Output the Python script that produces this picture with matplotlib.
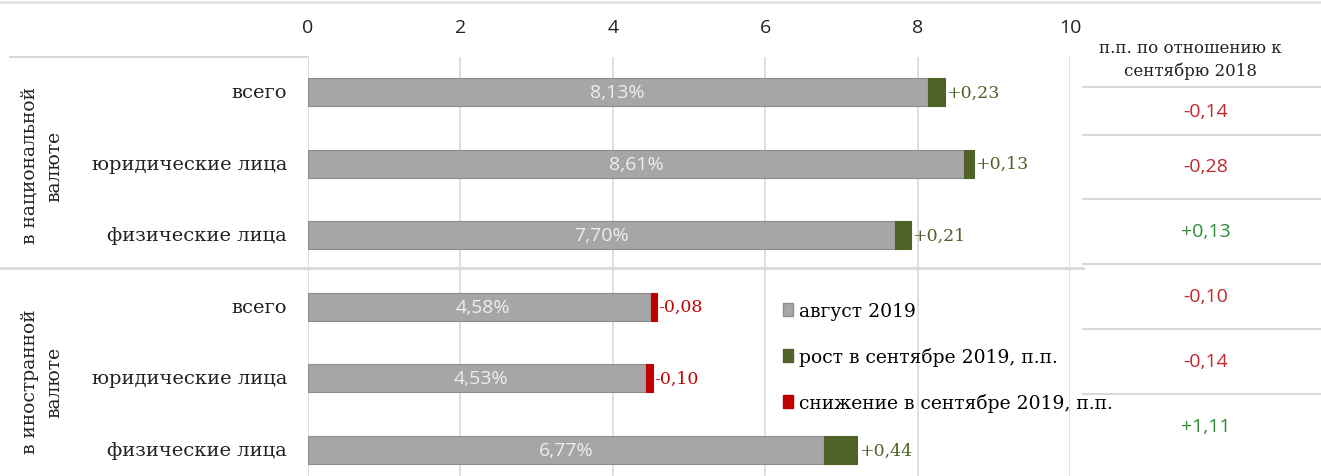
import matplotlib
matplotlib.use("Agg")
import matplotlib.pyplot as plt
from matplotlib.lines import Line2D
from matplotlib.patches import Patch

# ---- data ----
categories = ["всего", "юридические лица", "физические лица",
              "всего", "юридические лица", "физические лица"]
groups = ["в национальной\nвалюте", "в иностранной\nвалюте"]
august = [8.13, 8.61, 7.70, 4.58, 4.53, 6.77]
change_sep = [0.23, 0.13, 0.21, -0.08, -0.10, 0.44]
vs_sep2018 = [-0.14, -0.28, 0.13, -0.10, -0.14, 1.11]
xticks = [0, 2, 4, 6, 8, 10]
legend_labels = ["август 2019", "рост в сентябре 2019, п.п.", "снижение в сентябре 2019, п.п."]
table_header = "п.п. по отношению к\nсентябрю 2018"

GRAY = "#a6a6a6"
GRAY_EDGE = "#8c8c8c"
GREEN = "#4f6228"
RED = "#c00000"
T_RED = "#c0282d"
T_GREEN = "#2e8b3a"
LINE = "#d9d9d9"
SERIF = "DejaVu Serif"
SANS = "Open Sans"
TXT = "#222222"

W, H = 1321, 477
fig = plt.figure(figsize=(W / 100, H / 100), dpi=100)
fig.patch.set_facecolor("white")

def fx(px):
    return px / W

def fy(py):
    return 1 - py / H

ax = fig.add_axes([fx(308), 0, fx(1070) - fx(308), fy(58)])
ax.set_xlim(0, 10)
ax.set_ylim(5.363, -0.489)

bh = 0.39
for i, (a, c) in enumerate(zip(august, change_sep)):
    if c >= 0:
        ax.barh(i, a, height=bh, color=GRAY, edgecolor=GRAY_EDGE, linewidth=0.8, zorder=3)
        ax.barh(i, c, left=a, height=bh, color=GREEN, edgecolor=GREEN, linewidth=0.8, zorder=3)
        end = a + c
        col = GREEN
        txt = "+" + f"{c:.2f}".replace(".", ",")
    else:
        base = a + c
        ax.barh(i, base, height=bh, color=GRAY, edgecolor=GRAY_EDGE, linewidth=0.8, zorder=3)
        ax.barh(i, -c, left=base, height=bh, color=RED, edgecolor=RED, linewidth=0.8, zorder=3)
        end = a
        col = RED
        txt = f"{c:.2f}".replace(".", ",")
    ax.text(a / 2, i, f"{a:.2f}%".replace(".", ","), ha="center", va="center",
            color="#eeeeee", fontsize=14, family=SANS, zorder=4)
    ax.text(end + 0.02, i, txt, ha="left", va="center", color=col,
            fontsize=12.5, family=SERIF, zorder=4)

ax.set_xticks(xticks)
ax.set_xticklabels([str(t) for t in xticks], family=SANS, fontsize=14, color=TXT)
ax.xaxis.tick_top()
ax.tick_params(axis="x", length=0, pad=15)
ax.set_yticks([])
ax.grid(axis="x", color=LINE, linewidth=1.2, zorder=0)
for s in ax.spines.values():
    s.set_visible(False)

# category labels
for i, cat in enumerate(categories):
    y = 93 + 71.6 * i
    fig.text(fx(287), fy(y), cat, ha="right", va="center", family=SERIF,
             fontsize=14, color=TXT)

# group labels
fig.text(fx(42), fy(166), groups[0], rotation=90, ha="center", va="center",
         family=SERIF, fontsize=13.5, color=TXT, linespacing=1.45, multialignment="center")
fig.text(fx(42), fy(382), groups[1], rotation=90, ha="center", va="center",
         family=SERIF, fontsize=13.5, color=TXT, linespacing=1.45, multialignment="center")

# frame lines
fig.add_artist(Line2D([0, 1], [fy(3), fy(3)], color="#e3e3e3", lw=2))
fig.add_artist(Line2D([fx(10), fx(308)], [fy(58), fy(58)], color=LINE, lw=1.5))
fig.add_artist(Line2D([0, fx(1083)], [fy(269), fy(269)], color=LINE, lw=2))

# right table
fig.text(fx(1190), fy(60), table_header, ha="center", va="center", family=SERIF,
         fontsize=12, color=TXT, linespacing=1.4)
for yl in [88, 136, 200, 265, 330, 395]:
    fig.add_artist(Line2D([fx(1083), 1], [fy(yl), fy(yl)], color=LINE, lw=1.5))
t_y = [112, 167, 232, 297, 362, 427]
for v, y in zip(vs_sep2018, t_y):
    s = ("+" if v > 0 else "") + f"{v:.2f}".replace(".", ",")
    fig.text(fx(1206), fy(y), s, ha="center", va="center", family=SANS,
             fontsize=14, color=T_GREEN if v > 0 else T_RED)

# legend
handles = [Patch(facecolor=GRAY, edgecolor=GRAY_EDGE),
           Patch(facecolor=GREEN, edgecolor=GREEN),
           Patch(facecolor=RED, edgecolor=RED)]
leg = fig.legend(handles, legend_labels, loc="upper left",
                 bbox_to_anchor=(fx(783), fy(303)), frameon=False,
                 prop={"family": SERIF, "size": 13.5}, handlelength=0.55,
                 handleheight=0.7, handletextpad=0.3, labelspacing=1.45,
                 borderaxespad=0, borderpad=0)

fig.savefig("out.png", dpi=100, facecolor="white")
